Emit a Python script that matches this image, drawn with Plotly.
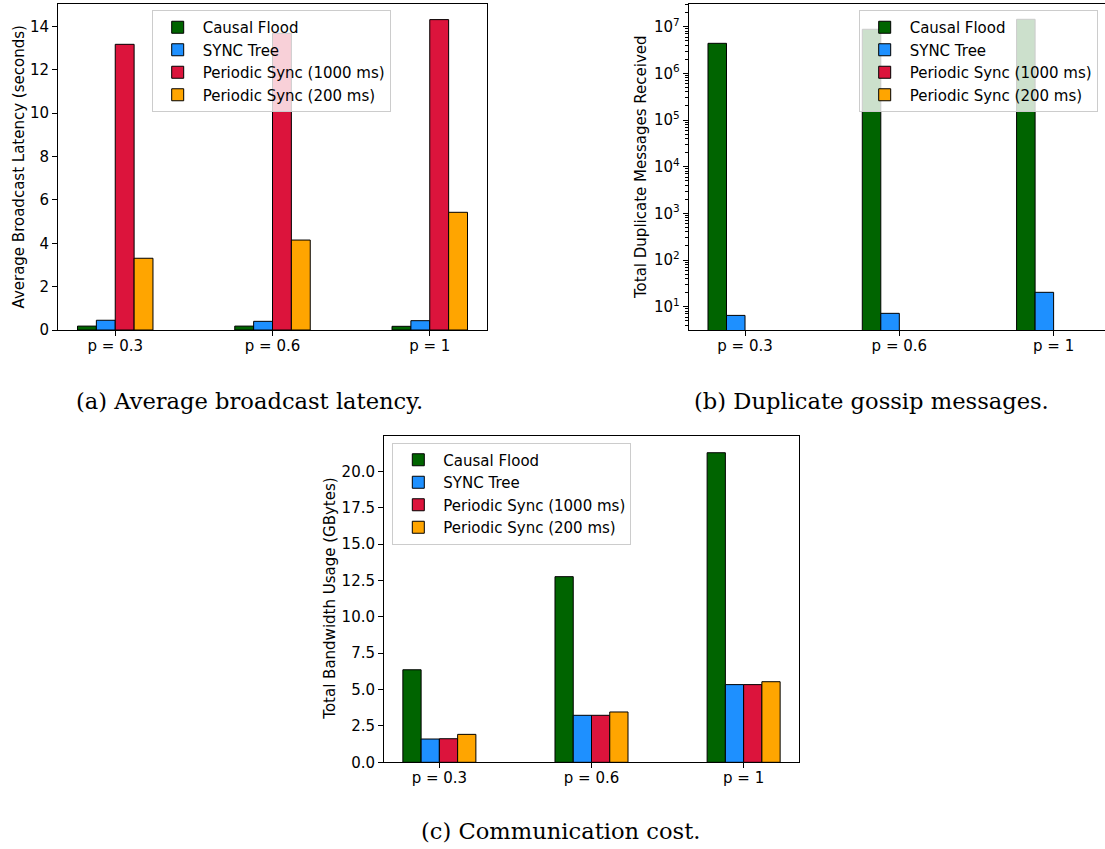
import plotly.graph_objects as go

categories = ["p = 0.3", "p = 0.6", "p = 1"]
series_names = ["Causal Flood", "SYNC Tree", "Periodic Sync (1000 ms)", "Periodic Sync (200 ms)"]
colors = ["#006400", "#1E90FF", "#DC143C", "#FFA500"]

# (a) Average broadcast latency (seconds)
latency_causal = [0.18, 0.18, 0.17]
latency_sync = [0.45, 0.40, 0.43]
latency_p1000 = [13.18, 13.69, 14.32]
latency_p200 = [3.31, 4.15, 5.43]

# (b) Total duplicate messages received
dup_causal = [4.4e6, 8.8e6, 1.44e7]
dup_sync = [6.5, 7.2, 20.3]
dup_p1000 = [0, 0, 0]
dup_p200 = [0, 0, 0]

# (c) Total bandwidth usage (GBytes)
bw_causal = [6.36, 12.76, 21.28]
bw_sync = [1.60, 3.23, 5.34]
bw_p1000 = [1.62, 3.23, 5.34]
bw_p200 = [1.92, 3.46, 5.54]

W, H = 1105, 849
H_EFF = 840.0  # measured vertical scale of the rendered page
FONT = "DejaVu Sans"


def px_x(v):
    return v / W


def px_y(v):
    return 1 - v / H_EFF


fig = go.Figure()

panels = [
    ("x", "y", "legend", [latency_causal, latency_sync, latency_p1000, latency_p200], False),
    ("x2", "y2", "legend2", [dup_causal, dup_sync, dup_p1000, dup_p200], True),
    ("x3", "y3", "legend3", [bw_causal, bw_sync, bw_p1000, bw_p200], False),
]

for xa, ya, lg, series, is_log in panels:
    for name, col, vals in zip(series_names, colors, series):
        yv = [v if (v > 0 or not is_log) else None for v in vals]
        fig.add_trace(go.Bar(
            x=categories, y=yv, name=name, xaxis=xa, yaxis=ya, legend=lg,
            marker=dict(color=col, line=dict(color="black", width=1)),
            showlegend=True, hoverinfo="skip",
        ))

axis_common = dict(
    showline=True, linecolor="black", linewidth=1, ticks="outside", ticklen=5,
    tickcolor="black", tickwidth=1, showgrid=False, zeroline=False,
    tickfont=dict(family=FONT, size=15, color="black"),
)


def xaxis_cfg(domain, anchor, rng):
    d = dict(axis_common)
    d.update(domain=domain, anchor=anchor, type="category", range=rng, mirror=True,
             ticklabelstandoff=-3)
    return d


exps = list(range(1, 8))
minor_vals = [m * 10 ** e for e in range(0, 8) for m in range(2, 10)]

fig.update_layout(
    width=W, height=H,
    margin=dict(l=0, r=0, t=0, b=0),
    paper_bgcolor="white", plot_bgcolor="white",
    barmode="group", bargap=0.52, bargroupgap=0,
    font=dict(family=FONT, size=15, color="black"),
    xaxis=xaxis_cfg([px_x(58), px_x(487)], "y", [-0.364, 2.364]),
    yaxis=dict(axis_common, domain=[px_y(330), px_y(4)], anchor="x",
               range=[0, 15.04], dtick=2, tick0=0, mirror=True),
    xaxis2=xaxis_cfg([px_x(688.7), 1.0], "y2", [-0.365, 2.333]),
    yaxis2=dict(axis_common, domain=[px_y(330), px_y(4)], anchor="x2",
                type="log", range=[0.5, 7.486], mirror=False,
                tickmode="array", tickvals=[10 ** e for e in exps],
                ticktext=["10<sup>%d</sup>" % e for e in exps],
                minor=dict(ticks="outside", ticklen=2.5, tickcolor="black",
                           tickmode="array", tickvals=minor_vals, showgrid=False)),
    xaxis3=xaxis_cfg([px_x(384), px_x(799)], "y3", [-0.364, 2.364]),
    yaxis3=dict(axis_common, domain=[px_y(762.3), px_y(436)], anchor="x3",
                range=[0, 22.43], dtick=2.5, tick0=0, tickformat=".1f", mirror=True),
)

legend_common = dict(
    xanchor="left", yanchor="top", bgcolor="rgba(255,255,255,0.8)",
    bordercolor="#cccccc", borderwidth=1,
    font=dict(family=FONT, size=15, color="black"),
    tracegroupgap=0, itemwidth=40,
)
fig.update_layout(
    legend=dict(legend_common, x=px_x(151.7), y=px_y(10)),
    legend2=dict(legend_common, x=px_x(858.7), y=px_y(10)),
    legend3=dict(legend_common, x=px_x(392.3), y=px_y(442.5)),
)

ann = []
ytitles = [
    ("Average Broadcast Latency (seconds)", 18.5, 167),
    ("Total Duplicate Messages Received", 641, 167),
    ("Total Bandwidth Usage (GBytes)", 329.7, 599),
]
for text, cx, cy in ytitles:
    ann.append(dict(text=text, x=px_x(cx), y=px_y(cy), xref="paper", yref="paper",
                    showarrow=False, textangle=-90, xanchor="center", yanchor="middle",
                    font=dict(family=FONT, size=15, color="black")))

captions = [
    ("(a) Average broadcast latency.", 249.5, 401),
    ("(b) Duplicate gossip messages.", 871.5, 401),
    ("(c) Communication cost.", 560, 831),
]
for text, cx, cy in captions:
    ann.append(dict(text=text, x=px_x(cx), y=px_y(cy), xref="paper", yref="paper",
                    showarrow=False, xanchor="center", yanchor="middle",
                    font=dict(family="DejaVu Serif", size=22.6, color="black")))

fig.update_layout(annotations=ann)

fig.write_html("out.html")
